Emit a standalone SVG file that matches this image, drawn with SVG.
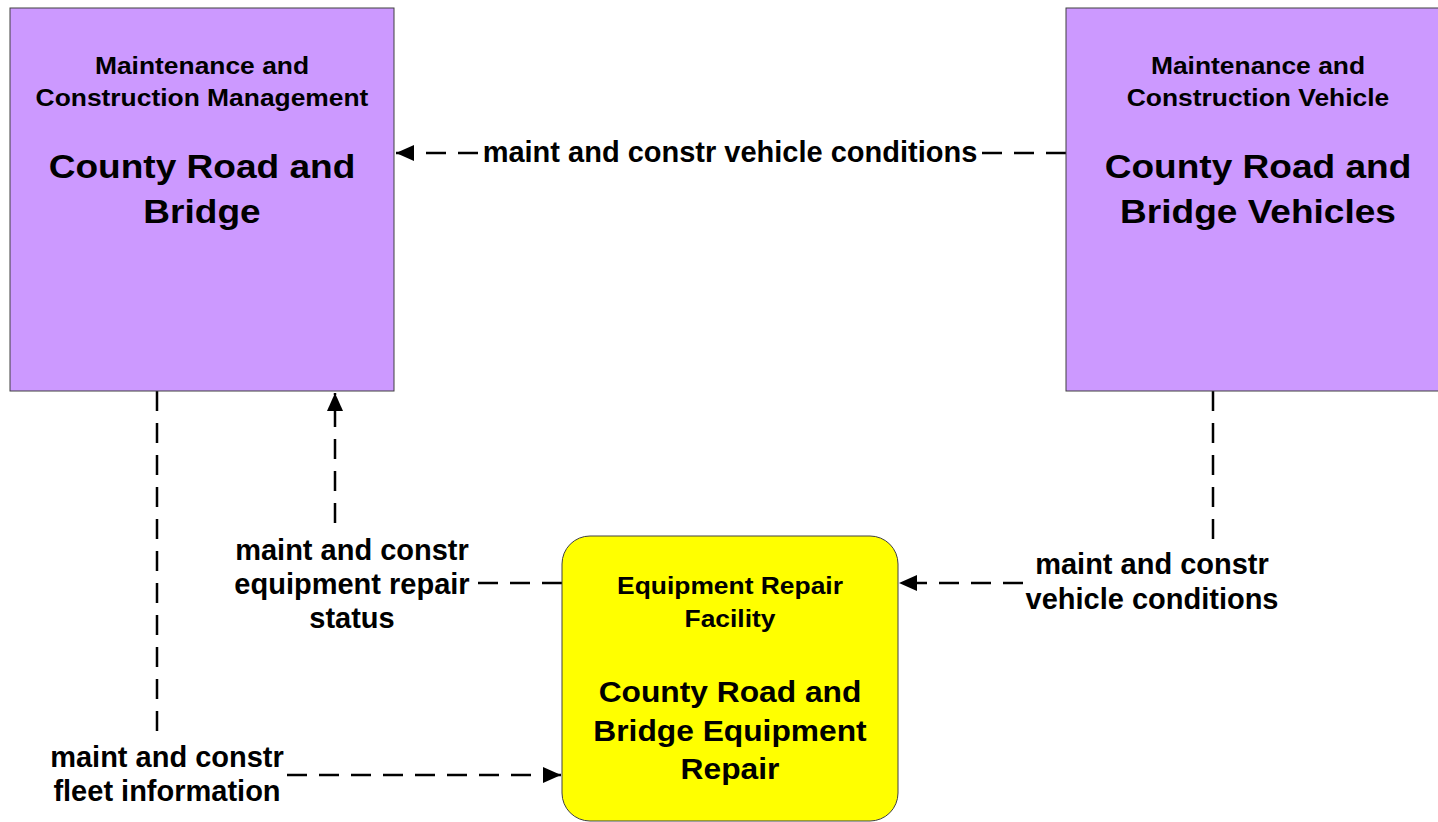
<svg xmlns="http://www.w3.org/2000/svg" width="1438" height="822" viewBox="0 0 1438 822">
<style>
.box{stroke:#404040;stroke-width:1}
.purple{fill:#CC99FF}
.yellow{fill:#FFFF00}
text{font-family:"Liberation Sans",Arial,sans-serif;font-weight:bold;fill:#000;text-anchor:middle}
.t1{font-size:24px}
.t2{font-size:34px}
.t3{font-size:29px}
.lbl{font-size:29px}
.conn{fill:none;stroke:#000;stroke-width:2.5;stroke-dasharray:20 12}
</style>
<defs>
<marker id="arrow" viewBox="0 0 18 16" markerWidth="18" markerHeight="16" refX="18" refY="8" orient="auto" markerUnits="userSpaceOnUse">
<path d="M0,0 L18,8 L0,16 z" fill="#000"/>
</marker>
</defs>
<g id="connectors">
<path class="conn" d="M1066,153 L980,153 M478,153 L396,153" marker-end="url(#arrow)"/>
<path class="conn" d="M1213,391 L1213,540 M1023,583 L899,583" marker-end="url(#arrow)"/>
<path class="conn" d="M562,583 L476,583 M335,523 L335,393" marker-end="url(#arrow)"/>
<path class="conn" d="M157,391 L157,736 M287,775 L561,775" marker-end="url(#arrow)"/>
<text class="lbl" x="730" y="162">maint and constr vehicle conditions</text>
<text class="lbl" x="1152" y="574">maint and constr</text>
<text class="lbl" x="1152" y="609">vehicle conditions</text>
<text class="lbl" x="352" y="560">maint and constr</text>
<text class="lbl" x="352" y="594">equipment repair</text>
<text class="lbl" x="352" y="628">status</text>
<text class="lbl" x="167" y="767">maint and constr</text>
<text class="lbl" x="167" y="801">fleet information</text>
</g>
<g id="node-mcm">
<rect class="box purple" x="10" y="8" width="384" height="383"/>
<text class="t1" transform="translate(202 74) scale(1.1 1)">Maintenance and</text>
<text class="t1" transform="translate(202 106) scale(1.1 1)">Construction Management</text>
<text class="t2" transform="translate(202 178) scale(1.09 1)">County Road and</text>
<text class="t2" transform="translate(202 223) scale(1.09 1)">Bridge</text>
</g>
<g id="node-mcv">
<rect class="box purple" x="1066" y="8" width="384" height="383"/>
<text class="t1" transform="translate(1258 74) scale(1.1 1)">Maintenance and</text>
<text class="t1" transform="translate(1258 106) scale(1.1 1)">Construction Vehicle</text>
<text class="t2" transform="translate(1258 178) scale(1.09 1)">County Road and</text>
<text class="t2" transform="translate(1258 223) scale(1.09 1)">Bridge Vehicles</text>
</g>
<g id="node-erf">
<rect class="box yellow" x="562" y="536" width="336" height="285" rx="28" ry="28"/>
<text class="t1" transform="translate(730 594) scale(1.1 1)">Equipment Repair</text>
<text class="t1" transform="translate(730 627) scale(1.1 1)">Facility</text>
<text class="t3" transform="translate(730 702) scale(1.095 1)">County Road and</text>
<text class="t3" transform="translate(730 741) scale(1.095 1)">Bridge Equipment</text>
<text class="t3" transform="translate(730 779) scale(1.095 1)">Repair</text>
</g>
</svg>
